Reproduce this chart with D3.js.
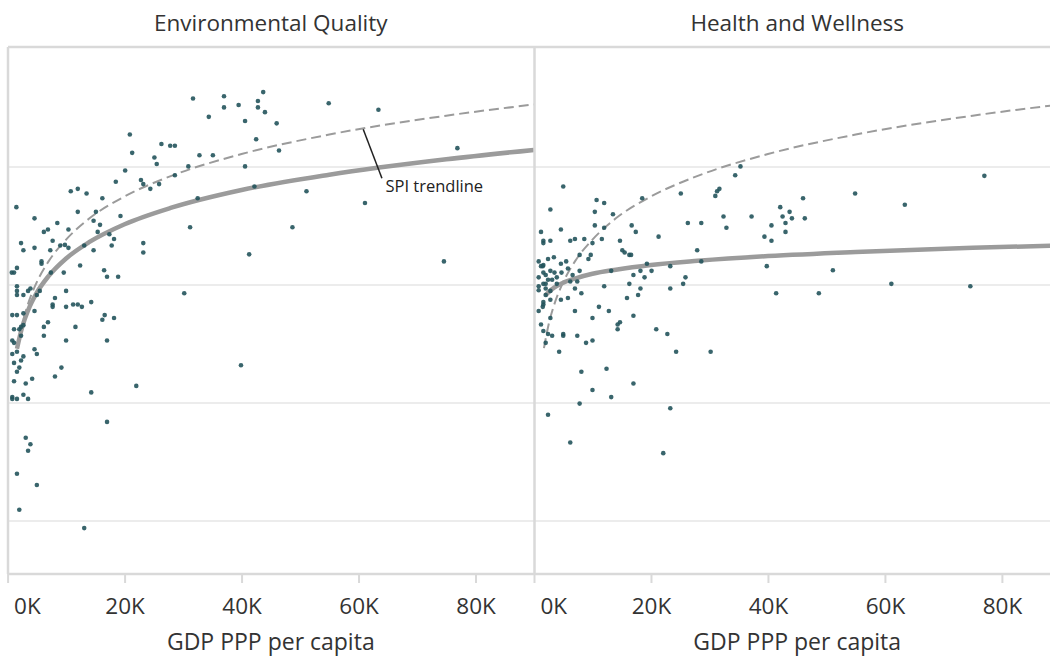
<!DOCTYPE html>
<html><head><meta charset="utf-8">
<script src="https://cdn.jsdelivr.net/npm/d3@7"></script>
<style>body{margin:0;background:#fff} text{font-family:"Open Sans", Lato, sans-serif}</style>
</head><body><svg id="c" width="1050" height="656"></svg>
<script>
const panels = ["Environmental Quality", "Health and Wellness"];
const xTicks = [0, 20, 40, 60, 80];            // GDP, thousands
const xTickLabels = ["0K", "20K", "40K", "60K", "80K"];
const yGrid = [20, 40, 60, 80];
const xAxisTitle = "GDP PPP per capita";
const annotationText = "SPI trendline";

// [GDP PPP per capita (K), score]
const envPoints = [
[31.7,91.6],[37.0,92.0],[37.0,90.1],[39.5,90.5],[43.7,92.7],[42.8,91.2],[42.8,90.1],[44.0,89.3],[34.4,88.5],[40.6,87.8],
[42.5,84.7],[20.9,85.5],[21.3,82.4],[26.3,83.9],[27.8,83.6],[28.6,83.6],[25.1,81.6],[25.5,80.5],[32.8,82.0],[35.1,82.0],
[30.9,80.1],[40.6,80.1],[20.1,79.4],[18.5,77.5],[22.8,77.8],[23.2,77.1],[24.4,76.3],[25.9,77.1],[28.6,78.6],[32.5,74.7],
[42.2,76.7],[1.5,73.2],[10.8,75.9],[12.0,76.3],[13.5,75.5],[16.2,74.7],[12.0,72.4],[15.1,72.4],[4.6,71.3],[8.5,70.5],
[6.2,69.0],[6.9,69.4],[10.4,69.4],[14.7,70.9],[15.8,70.2],[19.3,71.7],[15.4,69.0],[7.7,67.5],[9.0,66.7],[9.8,66.8],
[10.4,66.3],[13.1,66.7],[17.4,68.6],[18.2,67.8],[17.8,66.7],[2.3,67.1],[2.7,65.9],[4.6,66.3],[7.3,65.9],[14.7,65.9],
[23.2,67.1],[23.2,65.5],[31.2,69.8],[41.3,65.2],[5.8,64.0],[5.8,63.6],[12.4,63.3],[7.4,62.1],[9.6,62.1],[16.5,62.5],
[17.0,61.4],[18.9,61.4],[0.7,62.1],[1.1,62.1],[1.6,62.9],[1.6,59.8],[1.6,59.0],[1.6,58.3],[2.7,58.3],[3.5,59.0],
[3.9,59.4],[5.5,59.0],[5.0,58.3],[10.0,59.0],[8.1,57.8],[7.7,56.7],[7.7,56.3],[10.0,56.3],[11.2,56.7],[12.0,56.7],
[12.7,56.3],[14.3,57.1],[30.2,58.6],[0.8,54.9],[1.6,54.9],[2.7,55.2],[4.6,55.6],[16.2,54.1],[16.6,54.9],[18.2,54.4],
[1.1,52.5],[2.0,52.5],[2.3,52.9],[2.7,53.2],[6.2,52.9],[6.9,53.7],[11.6,52.9],[0.8,50.6],[1.1,50.2],[2.3,51.4],
[6.2,51.4],[10.0,50.6],[17.0,50.6],[0.8,48.3],[1.6,48.7],[4.6,49.1],[5.0,48.3],[2.7,47.9],[2.3,47.2],[1.1,46.8],
[2.0,46.0],[1.6,45.3],[1.1,43.7],[3.1,43.3],[4.2,44.1],[8.1,44.5],[9.2,46.0],[14.3,41.8],[22.0,42.9],[39.9,46.4],
[0.8,41.0],[0.8,40.7],[1.6,40.7],[2.7,41.4],[3.5,40.7],[17.0,36.8],[3.1,34.1],[3.9,33.0],[3.5,31.9],[1.6,28.0],
[5.0,26.1],[2.0,21.9],[13.1,18.8],[46.0,87.4],[54.9,90.8],[63.4,89.7],[46.4,82.8],[76.9,83.2],[51.1,75.9],[61.1,73.9],
[48.7,69.8],[74.6,64.0]
];
const healthPoints = [
[5.0,76.7],[2.8,72.8],[10.7,74.4],[12.0,73.9],[10.4,72.4],[13.5,72.0],[18.5,74.7],[25.1,75.5],[31.0,75.1],[31.3,75.9],
[31.7,76.3],[34.4,78.6],[35.3,80.1],[42.1,73.2],[43.7,72.4],[42.5,71.6],[44.1,71.3],[43.0,70.5],[43.0,69.0],[40.6,70.1],
[39.4,68.2],[40.6,67.5],[32.4,71.6],[37.2,71.6],[32.9,69.7],[26.3,70.5],[28.6,70.5],[27.9,65.9],[28.6,64.0],[21.3,68.2],
[16.7,70.1],[17.4,69.0],[14.7,67.5],[15.1,65.9],[15.5,65.5],[16.3,65.1],[16.6,65.1],[12.0,69.7],[11.6,67.8],[10.4,70.1],
[1.2,69.0],[1.6,67.5],[1.6,67.1],[2.8,67.5],[4.6,69.4],[7.0,67.8],[6.2,67.5],[8.6,67.8],[10.0,67.1],[9.7,65.1],
[9.3,64.4],[7.8,65.1],[3.4,64.7],[2.4,64.4],[0.8,64.0],[1.2,63.2],[1.5,63.2],[1.6,63.4],[4.6,63.6],[5.5,64.0],
[5.8,62.8],[7.8,62.4],[6.6,61.7],[2.8,62.4],[3.5,62.1],[4.7,62.1],[1.6,62.1],[0.8,61.3],[2.0,61.7],[2.4,60.9],
[3.1,60.9],[3.9,61.3],[3.9,60.2],[1.6,60.2],[2.0,60.2],[0.8,59.8],[0.8,59.1],[2.0,59.4],[2.8,59.0],[6.2,60.6],
[7.4,60.6],[7.0,59.4],[8.1,58.6],[12.0,59.8],[13.2,62.4],[16.3,60.2],[17.0,61.7],[18.2,62.4],[18.9,61.3],[20.1,62.4],
[18.2,59.4],[17.8,58.3],[15.9,57.8],[19.3,63.6],[23.3,63.2],[23.3,59.4],[25.5,60.2],[25.9,61.3],[39.8,63.2],[41.4,58.6],
[2.0,58.3],[5.8,57.8],[4.6,57.5],[2.8,57.5],[1.6,56.7],[1.5,56.3],[1.6,57.1],[0.8,55.6],[7.0,55.6],[11.1,56.3],
[12.8,55.6],[17.0,54.8],[10.0,54.4],[2.8,54.4],[1.2,53.3],[1.6,52.2],[3.1,51.4],[5.0,51.7],[5.0,51.4],[7.4,51.4],
[8.9,50.2],[10.0,50.6],[2.0,50.2],[14.3,53.3],[14.7,53.7],[14.3,52.5],[20.9,52.5],[22.8,51.7],[4.3,48.7],[24.3,48.7],
[30.2,48.7],[12.4,45.8],[2.4,51.7],[8.1,45.3],[10.0,42.2],[13.2,41.0],[17.0,43.3],[7.8,39.9],[23.3,39.1],[2.4,38.0],
[6.2,33.3],[22.1,31.5],[77.0,78.5],[54.9,75.5],[46.0,74.7],[63.4,73.6],[46.3,71.3],[51.1,62.5],[61.1,60.2],[74.6,59.8],
[48.7,58.6]
];

// trendlines: [GDP (K), score]
const spiTrend = [[1.7,49.3],[2.5,53.3],[3.5,56.8],[5,60.5],[7,64.0],[10,67.7],[14,71.3],[20,75.0],[28,78.5],[40,82.2],[55,85.5],[75,88.7],[90,90.6]];
const envTrend = [[1.6,49.2],[2.5,52.9],[3.5,55.7],[5,58.7],[7,61.5],[10,64.5],[14,67.3],[20,70.3],[28,73.1],[40,76.1],[55,78.7],[75,81.3],[90,82.9]];
const healthTrend = [[1.9,58.2],[2.5,58.8],[3.5,59.6],[5,60.4],[7,61.1],[10,61.9],[14,62.6],[20,63.4],[28,64.1],[40,64.9],[55,65.6],[75,66.3],[90,66.7]];

// annotation anchor points [GDP (K), score]
const annotationLine = [[60.8,86.4],[64.0,78.1]];
const annotationPos = [64.6,75.8];

const svg = d3.select("#c");
const TOP = 47, BOTTOM = 574;
const panelX = [[7.6, 534], [534, 1060.4]];
const y = d3.scaleLinear().domain([11.02, 100.34]).range([BOTTOM, TOP]);
const textColor = "#333";
const frameColor = "#d9d9d9";
const pointColor = "#24545c";
const trendColor = "#9b9b9b";

const datasets = [
  {points: envPoints, trend: envTrend},
  {points: healthPoints, trend: healthTrend}
];

panels.forEach((title, i) => {
  const x = d3.scaleLinear().domain([0, 90]).range(panelX[i]);
  const g = svg.append("g");
  const x0 = panelX[i][0], x1 = panelX[i][1];
  // gridlines
  g.selectAll(".grid").data(yGrid).join("line")
    .attr("x1", x0).attr("x2", x1)
    .attr("y1", d => y(d)).attr("y2", d => y(d))
    .attr("stroke", "#ececec").attr("stroke-width", 2);
  // title
  g.append("text").attr("x", (x0 + x1) / 2).attr("y", 31)
    .attr("text-anchor", "middle").attr("fill", textColor)
    .style("font-size", "22.5px").text(title);
  // axis
  const axis = d3.axisBottom(x).tickValues(xTicks)
    .tickFormat((d, k) => xTickLabels[k]).tickSize(9).tickSizeOuter(0);
  const ag = g.append("g").attr("transform", `translate(0,${BOTTOM})`).call(axis);
  ag.select(".domain").remove();
  ag.selectAll(".tick line").attr("stroke", frameColor).attr("stroke-width", 2);
  ag.selectAll(".tick text").attr("y", 40).attr("dy", 0)
    .attr("fill", textColor).style("font-size", "22.5px")
    .style("font-family", "'Open Sans', sans-serif");
  // first label is kept inside the panel
  ag.selectAll(".tick text").filter(d => d === xTicks[0])
    .attr("text-anchor", "start").attr("x", 6);
  g.append("text").attr("x", (x0 + x1) / 2).attr("y", 650)
    .attr("text-anchor", "middle").attr("fill", textColor)
    .style("font-size", "23px").text(xAxisTitle);

  const line = d3.line().x(d => x(d[0])).y(d => y(d[1])).curve(d3.curveMonotoneX);
  // SPI trend (dashed)
  g.append("path").datum(spiTrend).attr("d", line)
    .attr("fill", "none").attr("stroke", trendColor).attr("stroke-width", 2)
    .attr("stroke-dasharray", "10,5");
  // component trend
  g.append("path").datum(datasets[i].trend).attr("d", line)
    .attr("fill", "none").attr("stroke", trendColor).attr("stroke-width", 4.5);
  // points
  g.selectAll(".pt").data(datasets[i].points).join("circle")
    .attr("cx", d => x(d[0])).attr("cy", d => y(d[1])).attr("r", 2.3)
    .attr("fill", pointColor).attr("fill-opacity", 0.9);

  if (i === 0) {
    g.append("line")
      .attr("x1", x(annotationLine[0][0])).attr("y1", y(annotationLine[0][1]))
      .attr("x2", x(annotationLine[1][0])).attr("y2", y(annotationLine[1][1]))
      .attr("stroke", "#222").attr("stroke-width", 1.5);
    g.append("text").attr("x", x(annotationPos[0])).attr("y", y(annotationPos[1]))
      .attr("fill", "#222").style("font-size", "16.5px").text(annotationText);
  }
});

// frame
const frame = svg.append("g").attr("stroke", frameColor).attr("stroke-width", 2.5);
frame.append("line").attr("x1", 8).attr("x2", 1060).attr("y1", TOP).attr("y2", TOP);
frame.append("line").attr("x1", 8).attr("x2", 1060).attr("y1", BOTTOM).attr("y2", BOTTOM);
frame.append("line").attr("x1", 8).attr("x2", 8).attr("y1", TOP).attr("y2", BOTTOM);
frame.append("line").attr("x1", 534.5).attr("x2", 534.5).attr("y1", TOP).attr("y2", BOTTOM);
</script></body></html>
